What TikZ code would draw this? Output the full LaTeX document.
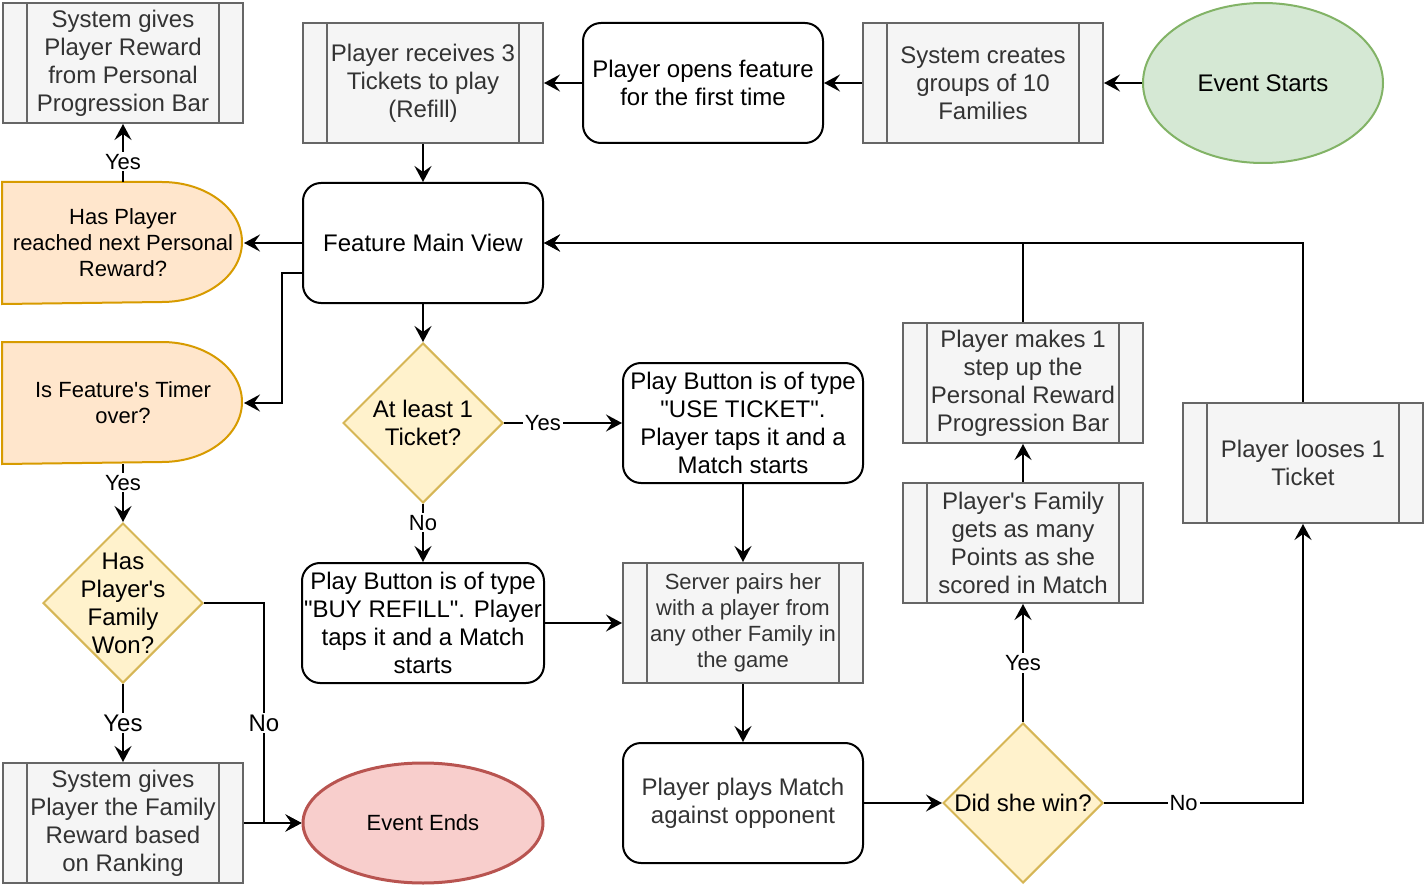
\documentclass[tikz,border=0pt]{standalone}
\usepackage{fontspec}
\setmainfont{Liberation Sans}[Ligatures=TeXOff]
\usetikzlibrary{shapes.geometric,arrows.meta,backgrounds}
\definecolor{cgrayfill}{HTML}{F5F5F5}
\definecolor{cgraydraw}{HTML}{666666}
\definecolor{cgraytext}{HTML}{333333}
\definecolor{corfill}{HTML}{FFE6CC}
\definecolor{cordraw}{HTML}{D79B00}
\definecolor{cyefill}{HTML}{FFF2CC}
\definecolor{cyedraw}{HTML}{D6B656}
\definecolor{cgrfill}{HTML}{D5E8D4}
\definecolor{cgrdraw}{HTML}{82B366}
\definecolor{crefill}{HTML}{F8CECC}
\definecolor{credraw}{HTML}{B85450}
\newcommand\myfontL{\fontsize{12}{14}\selectfont}
\newcommand\myfontS{\fontsize{11}{13}\selectfont}
\begin{document}
\begin{tikzpicture}[x=0.5pt,y=-0.5pt,
  base/.style={minimum width=120pt, minimum height=60pt, inner sep=1pt, align=center, line width=1pt, font=\myfontL},
  proc/.style={base, draw=black, fill=white, rounded corners=9pt},
  subproc/.style={base, draw=cgraydraw, fill=cgrayfill, text=cgraytext,
    path picture={\draw[cgraydraw, line width=1pt]
      ([xshift=12pt]path picture bounding box.north west) -- ([xshift=12pt]path picture bounding box.south west)
      ([xshift=-12pt]path picture bounding box.north east) -- ([xshift=-12pt]path picture bounding box.south east);}},
  delaynode/.style={base, font=\myfontS},
  delayshape/.style={draw=cordraw, fill=corfill, line width=1pt},
  decision/.style={diamond, draw=cyedraw, fill=cyefill, line width=1pt, minimum width=80pt, minimum height=80pt, inner sep=0pt},
  arr/.style={line width=1pt, -{Stealth[length=8pt, width=8.5pt, inset=3pt]}},
  lbl/.style={fill=white, inner sep=1pt, font=\myfontS},
  lblL/.style={fill=white, inner sep=1pt, font=\myfontL}
]
\useasboundingbox (0,0) rectangle (1426,888);

% nodes
\node[ellipse, draw=cgrdraw, fill=cgrfill, line width=1pt, minimum width=120pt, minimum height=80pt, inner sep=0pt, font=\myfontL] (es) at (1263,83) {Event Starts};
\node[subproc] (sc) at (983,83) {System creates\\groups of 10\\Families};
\node[proc] (po) at (703,83) {Player opens feature\\for the first time};
\node[subproc] (pr) at (423,83) {Player receives 3\\Tickets to play\\(Refill)};
\node[subproc] (sgr) at (123,63) {System gives\\Player Reward\\from Personal\\Progression Bar};
\node[proc] (fmv) at (423,243) {Feature Main View};
\node[delaynode] (hpr) at (123,243) {Has Player\\reached next Personal\\Reward?};
\node[delaynode] (ift) at (123,403) {Is Feature's Timer\\over?};
\node[decision, label={[font=\myfontL, align=center]center:{Has\\Player's\\Family\\Won?}}] (hfw) at (123,603) {};
\node[subproc] (sgf) at (123,823) {System gives\\Player the Family\\Reward based\\on Ranking};
\node[ellipse, draw=credraw, fill=crefill, line width=1.5pt, minimum width=120pt, minimum height=60pt, inner sep=0pt, font=\myfontS] (ee) at (423,823) {Event Ends};
\node[decision, label={[font=\myfontL, align=center]center:{At least 1\\Ticket?}}] (al) at (423,423) {};
\node[proc] (buy) at (423,623) {Play Button is of type\\"BUY REFILL". Player\\taps it and a Match\\starts};
\node[proc] (use) at (743,423) {Play Button is of type\\"USE TICKET".\\Player taps it and a\\Match starts};
\node[subproc, font=\myfontS] (srv) at (743,623) {Server pairs her\\with a player from\\any other Family in\\the game};
\node[proc, text=cgraytext] (ppm) at (743,803) {Player plays Match\\against opponent};
\node[decision, label={[font=\myfontL]center:{Did she win?}}] (dsw) at (1023,803) {};
\node[subproc] (pfg) at (1023,543) {Player's Family\\gets as many\\Points as she\\scored in Match};
\node[subproc] (pm1) at (1023,383) {Player makes 1\\step up the\\Personal Reward\\Progression Bar};
\node[subproc] (pl1) at (1303,463) {Player looses 1\\Ticket};

\begin{scope}[on background layer]
\path[delayshape] (hpr.north west) -- ++(80pt,0pt) arc[start angle=90, end angle=-90, x radius=40pt, y radius=30pt] -- (hpr.south west) -- cycle;
\path[delayshape] (ift.north west) -- ++(80pt,0pt) arc[start angle=90, end angle=-90, x radius=40pt, y radius=30pt] -- (ift.south west) -- cycle;
\end{scope}

% edges
\draw[arr] (es.west) -- (sc.east);
\draw[arr] (sc.west) -- (po.east);
\draw[arr] (po.west) -- (pr.east);
\draw[arr] (pr.south) -- (fmv.north);
\draw[arr] (fmv.west) -- (hpr.east);
\draw[arr] (hpr.north) -- node[pos=0.35, lbl] {Yes} (sgr.south);
\draw[arr] ([yshift=-15pt]fmv.west) -- ++(-20,0) |- (ift.east);
\draw[arr] (fmv.south) -- (al.north);
\draw[arr] (al.east) -- node[pos=0.33, lbl] {Yes} (use.west);
\draw[arr] (al.south) -- node[pos=0.32, lbl] {No} (buy.north);
\draw[arr] (use.south) -- (srv.north);
\draw[arr] (buy.east) -- (srv.west);
\draw[arr] (srv.south) -- (ppm.north);
\draw[arr] (ppm.east) -- (dsw.west);
\draw[arr] (dsw.north) -- node[pos=0.5, lbl] {Yes} (pfg.south);
\draw[arr] (pfg.north) -- (pm1.south);
\draw[arr] (pm1.north) |- (fmv.east);
\draw[arr] (dsw.east) -| node[pos=0.2, lbl] {No} (pl1.south);
\draw[arr] (pl1.north) |- (fmv.east);
\draw[arr] (ift.south) -- node[pos=0.32, lbl] {Yes} (hfw.north);
\draw[arr] (hfw.south) -- node[pos=0.5, lblL] {Yes} (sgf.north);
\draw[arr] (hfw.east) -- ++(60,0) |- node[pos=0.273, lblL] {No} (ee.west);
\draw[arr] (sgf.east) -- (ee.west);
\end{tikzpicture}
\end{document}
